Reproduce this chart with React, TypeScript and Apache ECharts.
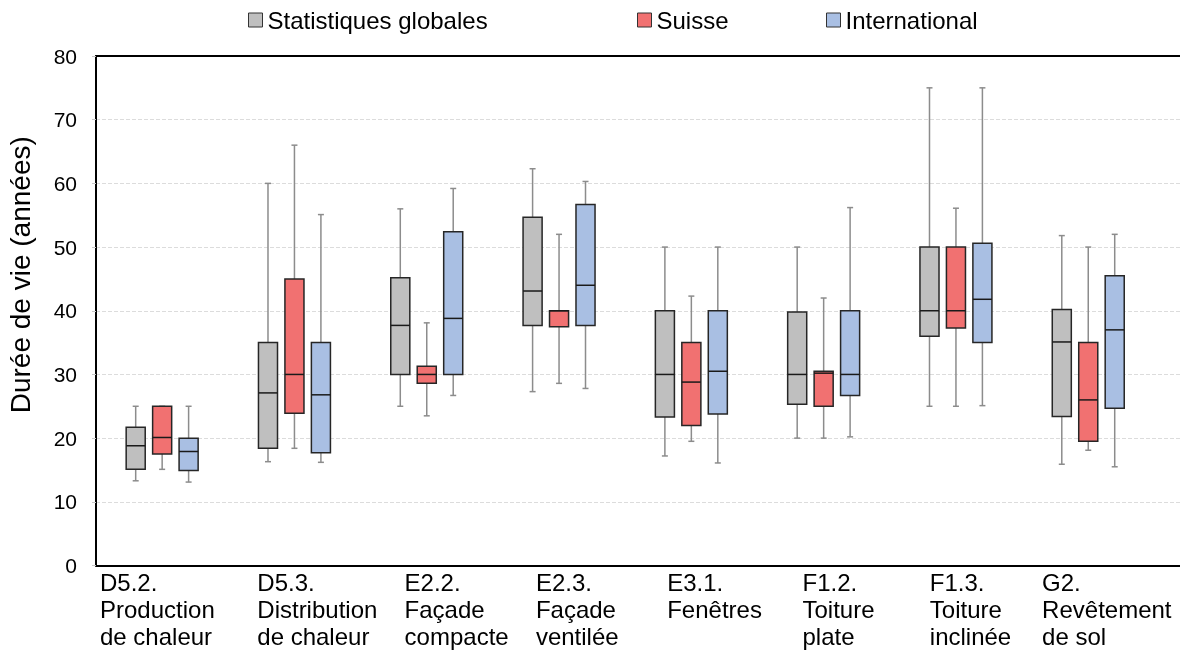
import React, { useEffect, useRef } from 'react';
import * as echarts from 'echarts';

const categories = [
  'D5.2.\nProduction\nde chaleur',
  'D5.3.\nDistribution\nde chaleur',
  'E2.2.\nFaçade\ncompacte',
  'E2.3.\nFaçade\nventilée',
  'E3.1.\nFenêtres',
  'F1.2.\nToiture\nplate',
  'F1.3.\nToiture\ninclinée',
  'G2.\nRevêtement\nde sol',
];

const seriesNames = ['Statistiques globales', 'Suisse', 'International'];

// [min, Q1, median, Q3, max]
const globalStats = [
  [13.3, 15.1, 18.8, 21.7, 25],
  [16.3, 18.4, 27.1, 35, 60],
  [25, 30, 37.7, 45.2, 56],
  [27.3, 37.7, 43.1, 54.7, 62.3],
  [17.2, 23.3, 30, 40, 50],
  [20, 25.3, 30, 39.8, 50],
  [25, 36, 40, 50, 75],
  [15.9, 23.4, 35.1, 40.2, 51.8],
];

const suisse = [
  [15.1, 17.5, 20.1, 25, 25],
  [18.4, 23.9, 30, 45, 66],
  [23.5, 28.6, 30, 31.3, 38.1],
  [28.6, 37.5, 40, 40, 52],
  [19.5, 22, 28.8, 35, 42.3],
  [20, 25, 30.2, 30.5, 42],
  [25, 37.3, 40, 50, 56.1],
  [18.1, 19.5, 26, 35, 50],
];

const international = [
  [13.1, 14.9, 17.9, 20, 25],
  [16.2, 17.7, 26.8, 35, 55.1],
  [26.7, 30, 38.8, 52.4, 59.2],
  [27.8, 37.7, 44, 56.7, 60.3],
  [16.1, 23.8, 30.5, 40, 50],
  [20.2, 26.7, 30, 40, 56.2],
  [25.1, 35, 41.8, 50.6, 75],
  [15.5, 24.7, 37, 45.5, 52],
];

const yMin = 0;
const yMax = 80;
const yInterval = 10;

// styling / layout
const colors = ['#bfbfbf', '#f17171', '#a9bfe3'];
const boxOffsets = [-0.2, 0, 0.2];
const boxFrac = 0.144;
const labelOffsets = [4, 29, 44, 43, 42, 45, 40, 20];
const legendLefts = [248, 637, 826];
const FONT = "'Liberation Sans', Arial, sans-serif";

export default function App() {
  const ref = useRef<HTMLDivElement>(null);

  useEffect(() => {
    if (!ref.current) return;
    const chart = echarts.init(ref.current, null, { renderer: 'svg' });

    const datasets = [globalStats, suisse, international];

    const makeRender = (k: number) => (params: any, api: any) => {
      const xv = api.value(0);
      const vals = [1, 2, 3, 4, 5].map((d) => api.value(d));
      const band = api.size([1, 0])[0];
      const cx = api.coord([xv, 0])[0] + boxOffsets[k] * band;
      const ys = vals.map((v) => api.coord([xv, v])[1]);
      const hw = (band * boxFrac) / 2;
      const cap = 3;
      const whisk = { stroke: '#8c8c8c', lineWidth: 1.5 };
      return {
        type: 'group',
        children: [
          { type: 'line', shape: { x1: cx, y1: ys[0], x2: cx, y2: ys[4] }, style: whisk },
          { type: 'line', shape: { x1: cx - cap, y1: ys[0], x2: cx + cap, y2: ys[0] }, style: whisk },
          { type: 'line', shape: { x1: cx - cap, y1: ys[4], x2: cx + cap, y2: ys[4] }, style: whisk },
          {
            type: 'rect',
            shape: { x: cx - hw, y: ys[3], width: 2 * hw, height: ys[1] - ys[3] },
            style: { fill: colors[k], stroke: '#262626', lineWidth: 1.5 },
          },
          {
            type: 'line',
            shape: { x1: cx - hw, y1: ys[2], x2: cx + hw, y2: ys[2] },
            style: { stroke: '#1a1a1a', lineWidth: 1.5 },
          },
        ],
      };
    };

    const rich: any = {};
    categories.forEach((_, i) => {
      rich['c' + i] = {
        fontSize: 24,
        lineHeight: 27,
        color: '#000',
        fontFamily: FONT,
        padding: [0, 0, 0, labelOffsets[i]],
      };
    });

    const option: any = {
      animation: false,
      textStyle: { fontFamily: FONT },
      legend: seriesNames.map((name, k) => ({
        left: legendLefts[k],
        top: 8,
        padding: 0,
        itemWidth: 14,
        itemHeight: 14,
        selectedMode: false,
        textStyle: { fontSize: 24, color: '#000', fontFamily: FONT },
        data: [
          {
            name,
            icon: 'rect',
            itemStyle: { color: colors[k], borderColor: '#333', borderWidth: 1 },
          },
        ],
      })),
      grid: {
        left: 96,
        top: 56,
        width: 1190.7,
        bottom: 86.5,
        containLabel: false,
        outerBoundsMode: 'none',
      },
      xAxis: [
        {
          type: 'value',
          min: 0,
          max: 9,
          interval: 1,
          position: 'bottom',
          axisLine: { show: true, onZero: false, lineStyle: { color: '#000', width: 2 } },
          axisTick: { show: false },
          splitLine: { show: false },
          axisLabel: {
            show: true,
            align: 'left',
            verticalAlign: 'top',
            margin: 3,
            showMinLabel: true,
            showMaxLabel: true,
            formatter: (v: number) => {
              const i = Math.round(v);
              if (i < 0 || i >= categories.length) return '';
              return categories[i]
                .split('\n')
                .map((l) => `{c${i}|${l}}`)
                .join('\n');
            },
            rich,
          },
        },
        {
          type: 'value',
          min: 0,
          max: 9,
          position: 'top',
          axisLine: { show: true, onZero: false, lineStyle: { color: '#000', width: 2 } },
          axisTick: { show: false },
          splitLine: { show: false },
          axisLabel: { show: false },
        },
      ],
      yAxis: {
        type: 'value',
        min: yMin,
        max: yMax,
        interval: yInterval,
        name: 'Durée de vie (années)',
        nameLocation: 'middle',
        nameGap: 62,
        nameTextStyle: {
          fontSize: 28,
          color: '#000',
          fontFamily: FONT,
          padding: [0, 0, 0, 72],
        },
        axisLine: { show: true, lineStyle: { color: '#000', width: 2 } },
        axisTick: { show: true, length: 4, lineStyle: { color: '#c8c8c8' } },
        axisLabel: { fontSize: 21, color: '#000', margin: 19, fontFamily: FONT },
        splitLine: { show: true, lineStyle: { color: '#dcdcdc', type: 'dashed', width: 1 } },
      },
      series: seriesNames.map((name, k) => ({
        type: 'custom',
        name,
        xAxisIndex: 0,
        itemStyle: { color: colors[k] },
        renderItem: makeRender(k),
        encode: { x: 0, y: [1, 2, 3, 4, 5] },
        data: datasets[k].map((d, i) => [i + 0.5, ...d]),
      })),
    };

    chart.setOption(option);
    return () => chart.dispose();
  }, []);

  return (
    <div
      ref={ref}
      style={{ position: 'fixed', left: 0, top: 0, width: 1180, height: 652 }}
    />
  );
}
